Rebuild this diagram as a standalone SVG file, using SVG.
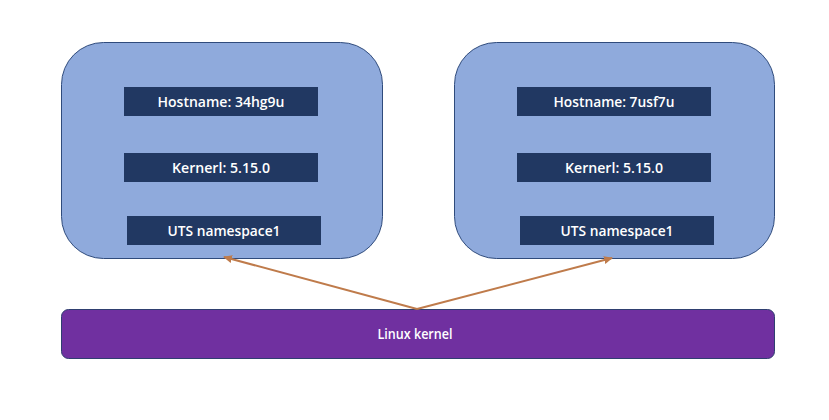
<svg xmlns="http://www.w3.org/2000/svg" width="829" height="420" viewBox="0 0 829 420">
<style>
.ns{fill:#8FAADC;stroke:#2F4B7C;stroke-width:1}
.box{fill:#213862}
.kern{fill:#7030A0;stroke:#2F3F70;stroke-width:1}
.t{font-family:"Open Sans","Liberation Sans",sans-serif;font-size:15px;font-weight:600;fill:#FFFFFF;text-anchor:middle;dominant-baseline:central}
.conn{stroke:#BF7B4B;stroke-width:2;fill:none;marker-end:url(#ah)}
</style>
<defs>
<marker id="ah" viewBox="0 0 10 10" refX="8" refY="5" markerWidth="5" markerHeight="5" orient="auto" markerUnits="strokeWidth">
<path d="M0,1 L9,5 L0,9 z" fill="#BF7B4B"/>
</marker>
</defs>
<rect width="829" height="420" fill="#FFFFFF"/>
<g id="ns1">
<rect class="ns" x="61.5" y="42.5" width="321" height="216" rx="42" ry="42"/>
<g id="ns1-host"><rect class="box" x="124" y="87" width="194" height="29"/><text class="t" x="221" y="101" textLength="127" lengthAdjust="spacingAndGlyphs">Hostname: 34hg9u</text></g>
<g id="ns1-kern"><rect class="box" x="124" y="153" width="194" height="29"/><text class="t" x="221" y="167" textLength="98" lengthAdjust="spacingAndGlyphs">Kernerl: 5.15.0</text></g>
<g id="ns1-uts"><rect class="box" x="127" y="216" width="194" height="29"/><text class="t" x="224" y="230" textLength="113" lengthAdjust="spacingAndGlyphs">UTS namespace1</text></g>
</g>
<g id="ns2">
<rect class="ns" x="454.5" y="42.5" width="320" height="216" rx="42" ry="42"/>
<g id="ns2-host"><rect class="box" x="517" y="87" width="194" height="29"/><text class="t" x="614" y="101" textLength="121" lengthAdjust="spacingAndGlyphs">Hostname: 7usf7u</text></g>
<g id="ns2-kern"><rect class="box" x="517" y="153" width="194" height="29"/><text class="t" x="614" y="167" textLength="98" lengthAdjust="spacingAndGlyphs">Kernerl: 5.15.0</text></g>
<g id="ns2-uts"><rect class="box" x="520" y="216" width="194" height="29"/><text class="t" x="617" y="230" textLength="113" lengthAdjust="spacingAndGlyphs">UTS namespace1</text></g>
</g>
<g id="kernel">
<rect class="kern" x="61.5" y="309.5" width="713" height="49" rx="7" ry="7"/>
<text class="t" x="415" y="333" textLength="75" lengthAdjust="spacingAndGlyphs">Linux kernel</text>
</g>
<g id="connectors">
<line class="conn" x1="417" y1="309" x2="224" y2="257"/>
<line class="conn" x1="417" y1="309" x2="612" y2="258"/>
</g>
</svg>
